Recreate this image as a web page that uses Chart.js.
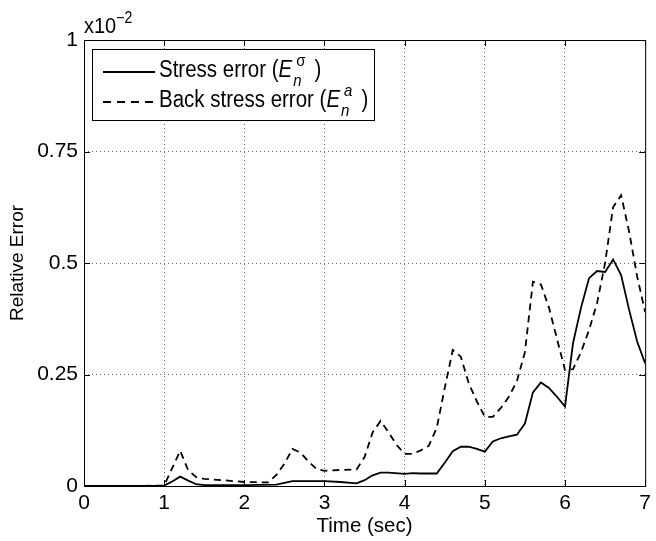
<!DOCTYPE html>
<html>
<head>
<meta charset="utf-8">
<script src="https://cdn.jsdelivr.net/npm/chart.js@4"></script>
<style>
  html, body { margin: 0; padding: 0; background: #fff; }
  #wrap { width: 656px; height: 541px; }
</style>
</head>
<body>
<div id="wrap"><canvas id="errChart" width="656" height="541"></canvas></div>
<script>
// time samples (sec) and relative errors (units of 1e-2)
const stressT = [0, 0.5, 1.0, 1.1, 1.2, 1.3, 1.4, 1.5, 2.0, 2.4, 2.5, 2.6, 3.0, 3.2, 3.4, 3.5, 3.6, 3.7, 3.8, 4.0,
  4.1, 4.2, 4.4, 4.5, 4.6, 4.7, 4.8, 4.9, 5.0, 5.1, 5.2, 5.3, 5.4, 5.5, 5.6, 5.7, 5.8, 5.9, 6.0,
  6.1, 6.2, 6.3, 6.4, 6.5, 6.6, 6.7, 6.8, 6.9, 7.0];
const stressErr = [0, 0, 0.001, 0.01, 0.021, 0.012, 0.004, 0.002, 0.002, 0.003, 0.007, 0.011, 0.011, 0.009, 0.006, 0.013, 0.024, 0.03, 0.03, 0.027,
  0.029, 0.028, 0.028, 0.052, 0.078, 0.088, 0.088, 0.083, 0.077, 0.1, 0.107, 0.111, 0.115, 0.14, 0.21, 0.232, 0.22, 0.2, 0.178,
  0.32, 0.40, 0.466, 0.482, 0.48, 0.508, 0.473, 0.395, 0.324, 0.275];

const backT = [0, 0.5, 1.0, 1.1, 1.2, 1.3, 1.4, 1.5, 1.8, 2.0, 2.3, 2.4, 2.5, 2.6, 2.7, 2.8, 2.9, 3.0, 3.2, 3.4,
  3.5, 3.6, 3.7, 3.8, 3.9, 4.0, 4.1, 4.2, 4.3, 4.4, 4.5, 4.6, 4.7, 4.8, 4.9, 5.0, 5.1, 5.2, 5.3, 5.4,
  5.5, 5.6, 5.7, 5.8, 5.9, 6.0, 6.1, 6.2, 6.3, 6.4, 6.5, 6.6, 6.7, 6.8, 6.9, 7.0];
const backErr = [0, 0, 0.001, 0.04, 0.079, 0.035, 0.02, 0.016, 0.012, 0.009, 0.008, 0.025, 0.05, 0.083, 0.075, 0.055, 0.038, 0.034, 0.036, 0.037,
  0.065, 0.12, 0.146, 0.12, 0.092, 0.072, 0.072, 0.08, 0.09, 0.13, 0.22, 0.305, 0.29, 0.23, 0.19, 0.155, 0.155, 0.175, 0.2, 0.235,
  0.3, 0.458, 0.452, 0.4, 0.33, 0.26, 0.262, 0.3, 0.35, 0.41, 0.5, 0.625, 0.652, 0.57, 0.47, 0.39];

const xTicks = [0, 1, 2, 3, 4, 5, 6, 7];
const yTicks = [0, 0.25, 0.5, 0.75, 1];

const FONT = 'Liberation Sans, Arial, Helvetica, sans-serif';

function toPoints(ts, vs) {
  return ts.map((t, i) => ({ x: t, y: vs[i] }));
}

// draws text pieces along a baseline, slightly stretched vertically
function stretchedText(ctx, x, base, parts) {
  ctx.save();
  ctx.translate(x, base);
  ctx.scale(1, 1.13);
  let cx = 0;
  parts.forEach(p => {
    ctx.font = p.font;
    ctx.fillText(p.text, cx + (p.dx || 0), p.dy || 0);
    if (p.advance !== false) cx += ctx.measureText(p.text).width + (p.gap || 0);
  });
  ctx.restore();
}

// MATLAB-style box, inward ticks, exponent label and legend
const matlabFrame = {
  id: 'matlabFrame',
  afterDraw(chart) {
    const ctx = chart.ctx;
    const { left, right, top, bottom } = chart.chartArea;
    const xs = chart.scales.x;
    const ys = chart.scales.y;
    ctx.save();
    ctx.strokeStyle = '#000';
    ctx.lineWidth = 1;
    ctx.strokeRect(left + 0.5, top + 0.5, right - left, bottom - top);

    const tl = 6;
    ctx.beginPath();
    xTicks.forEach(v => {
      const px = Math.round(xs.getPixelForValue(v)) + 0.5;
      ctx.moveTo(px, bottom); ctx.lineTo(px, bottom - tl);
      ctx.moveTo(px, top); ctx.lineTo(px, top + tl);
    });
    yTicks.forEach(v => {
      const py = Math.round(ys.getPixelForValue(v)) + 0.5;
      ctx.moveTo(left, py); ctx.lineTo(left + tl, py);
      ctx.moveTo(right, py); ctx.lineTo(right - tl, py);
    });
    ctx.stroke();

    // exponent
    ctx.fillStyle = '#000';
    ctx.textBaseline = 'alphabetic';
    ctx.textAlign = 'left';
    stretchedText(ctx, left, top - 7, [
      { text: 'x10', font: '20px ' + FONT },
      { text: '\u22122', font: '14px ' + FONT, dy: -9 }
    ]);

    // legend
    const lx = 92, ly = 49, lw = 282, lh = 71;
    ctx.fillStyle = '#fff';
    ctx.fillRect(lx, ly, lw, lh);
    ctx.strokeStyle = '#000';
    ctx.lineWidth = 1;
    ctx.strokeRect(lx + 0.5, ly + 0.5, lw, lh);

    const rows = [
      { y: 72, dash: [], label: 'Stress error (', sup: '\u03c3', supFont: '15px ' + FONT },
      { y: 102, dash: [8, 6], label: 'Back stress error (', sup: 'a', supFont: 'italic 15px ' + FONT }
    ];
    rows.forEach(r => {
      ctx.beginPath();
      ctx.setLineDash(r.dash);
      ctx.lineWidth = 1.8;
      ctx.strokeStyle = '#000';
      ctx.moveTo(103, r.y);
      ctx.lineTo(155, r.y);
      ctx.stroke();
      ctx.setLineDash([]);

      ctx.fillStyle = '#000';
      stretchedText(ctx, 159, r.y + 5, [
        { text: r.label, font: '20.5px ' + FONT },
        { text: 'E', font: 'italic 20.5px ' + FONT, gap: 1 },
        { text: 'n', font: 'italic 15px ' + FONT, dy: 8, advance: false },
        { text: r.sup, font: r.supFont, dx: 3, dy: -10, gap: 12 },
        { text: ')', font: '20.5px ' + FONT }
      ]);
    });
    ctx.restore();
  }
};

new Chart(document.getElementById('errChart'), {
  type: 'line',
  data: {
    datasets: [
      {
        label: 'Stress error',
        data: toPoints(stressT, stressErr),
        borderColor: '#000',
        borderWidth: 1.8,
        pointRadius: 0,
        tension: 0,
        fill: false
      },
      {
        label: 'Back stress error',
        data: toPoints(backT, backErr),
        borderColor: '#000',
        borderWidth: 1.8,
        borderDash: [7, 5],
        pointRadius: 0,
        tension: 0,
        fill: false
      }
    ]
  },
  options: {
    responsive: false,
    animation: false,
    layout: { padding: { left: 0, top: 40, right: 6, bottom: 0 } },
    plugins: {
      legend: { display: false },
      tooltip: { enabled: false }
    },
    scales: {
      x: {
        type: 'linear',
        min: 0,
        max: 7,
        afterBuildTicks: scale => { scale.ticks = xTicks.map(v => ({ value: v })); },
        afterFit: scale => { scale.height = 55; },
        grid: { color: '#666', lineWidth: 1, drawTicks: false },
        border: { display: false, dash: [1, 3] },
        ticks: {
          color: '#000',
          padding: 5,
          maxRotation: 0,
          font: { family: FONT, size: 21 }
        },
        title: {
          display: true,
          text: 'Time (sec)',
          color: '#000',
          padding: { top: 0, bottom: 2 },
          font: { family: FONT, size: 20.5 }
        }
      },
      y: {
        type: 'linear',
        min: 0,
        max: 1,
        afterBuildTicks: scale => { scale.ticks = yTicks.map(v => ({ value: v })); },
        afterFit: scale => { scale.width = 84; },
        grid: { color: '#666', lineWidth: 1, drawTicks: false },
        border: { display: false, dash: [1, 3] },
        ticks: {
          color: '#000',
          padding: 6,
          font: { family: FONT, size: 21 },
          callback: v => String(v)
        },
        title: {
          display: true,
          text: 'Relative Error',
          color: '#000',
          padding: { top: 6, bottom: 2 },
          font: { family: FONT, size: 19 }
        }
      }
    }
  },
  plugins: [matlabFrame]
});
</script>
</body>
</html>
